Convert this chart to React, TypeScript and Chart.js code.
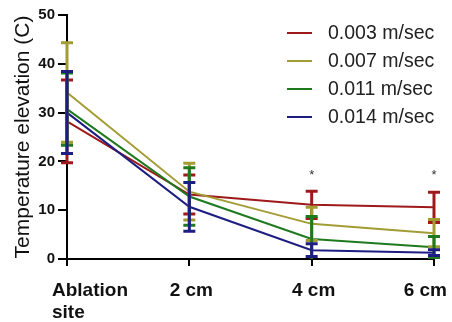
import React, { useEffect, useRef } from "react";
import { Chart, registerables } from "chart.js";

Chart.register(...registerables);

const categories: string[][] = [["Ablation", "site"], ["2 cm"], ["4 cm"], ["6 cm"]];
const seriesLabels = ["0.003 m/sec", "0.007 m/sec", "0.011 m/sec", "0.014 m/sec"];
const seriesColors = ["#9E1A1A", "#A39C35", "#1F7A1F", "#1E1E82"];
const mean003 = [28.2, 13.2, 11.1, 10.6];
const sd003 = [8.5, 4.0, 2.8, 3.1];
const mean007 = [34.1, 13.8, 7.2, 5.3];
const sd007 = [10.2, 5.8, 3.4, 2.8];
const mean011 = [30.7, 12.8, 4.1, 2.4];
const sd011 = [7.4, 5.9, 4.6, 2.2];
const mean014 = [30.0, 10.7, 1.8, 1.3];
const sd014 = [8.4, 5.0, 1.3, 0.6];
const yTicks = [0, 10, 20, 30, 40, 50];
const starCategories = [2, 3];
const starValue = 17.2;

const means = [mean003, mean007, mean011, mean014];
const sds = [sd003, sd007, sd011, sd014];

const FONT = "'Liberation Sans', Arial, sans-serif";

const errorBarPlugin = {
  id: "errorBars",
  afterDatasetsDraw(chart: any) {
    const ctx = chart.ctx;
    const x = chart.scales.x;
    const y = chart.scales.y;
    ctx.save();
    ctx.beginPath();
    ctx.rect(chart.chartArea.left - 10, chart.chartArea.top - 10, chart.chartArea.width + 20, chart.chartArea.height + 10);
    ctx.clip();
    means.forEach((m, si) => {
      ctx.strokeStyle = seriesColors[si];
      ctx.lineWidth = 3;
      m.forEach((v, i) => {
        const px = x.getPixelForValue(i);
        const top = y.getPixelForValue(v + sds[si][i]);
        const bot = y.getPixelForValue(v - sds[si][i]);
        ctx.beginPath();
        ctx.moveTo(px, top);
        ctx.lineTo(px, bot);
        ctx.moveTo(px - 6, top);
        ctx.lineTo(px + 6, top);
        ctx.moveTo(px - 6, bot);
        ctx.lineTo(px + 6, bot);
        ctx.stroke();
      });
    });
    ctx.restore();

    ctx.save();
    ctx.fillStyle = "#333";
    ctx.font = `13px ${FONT}`;
    ctx.textAlign = "center";
    ctx.textBaseline = "middle";
    starCategories.forEach((idx) => {
      ctx.fillText("*", x.getPixelForValue(idx), y.getPixelForValue(starValue));
    });
    ctx.restore();
  },
  afterDraw(chart: any) {
    const ctx = chart.ctx;
    const x = chart.scales.x;
    ctx.save();
    ctx.fillStyle = "#111";
    ctx.font = `bold 19px ${FONT}`;
    ctx.textBaseline = "top";
    const last = categories.length - 1;
    categories.forEach((lines, i) => {
      const px = x.getPixelForValue(i);
      lines.forEach((t, li) => {
        const yy = 281 + li * 22;
        if (i === 0) {
          ctx.textAlign = "left";
          ctx.fillText(t, px - 15, yy);
        } else if (i === last) {
          ctx.textAlign = "right";
          ctx.fillText(t, chart.width - 5, yy);
        } else {
          ctx.textAlign = "center";
          ctx.fillText(t, px + 2, yy);
        }
      });
    });
    ctx.restore();
  },
};

const legendPlugin = {
  id: "customLegend",
  afterDraw(chart: any) {
    const ctx = chart.ctx;
    ctx.save();
    ctx.font = `19.5px ${FONT}`;
    ctx.textBaseline = "middle";
    ctx.textAlign = "left";
    chart.data.datasets.forEach((ds: any, i: number) => {
      const yy = 33 + i * 28;
      ctx.strokeStyle = ds.borderColor;
      ctx.lineWidth = 2;
      ctx.beginPath();
      ctx.moveTo(287, yy);
      ctx.lineTo(312, yy);
      ctx.stroke();
      ctx.fillStyle = "#222";
      ctx.fillText(ds.label, 328, yy + 1);
    });
    ctx.restore();
  },
};

export default function App() {
  const ref = useRef<HTMLCanvasElement>(null);
  useEffect(() => {
    document.body.style.margin = "0";
    const chart = new Chart(ref.current!, {
      type: "line",
      data: {
        labels: categories.map((c) => c.join(" ")),
        datasets: means.map((m, i) => ({
          label: seriesLabels[i],
          data: m,
          borderColor: seriesColors[i],
          backgroundColor: seriesColors[i],
          borderWidth: 2,
          pointRadius: 0,
          tension: 0,
          order: 4 - i,
        })),
      },
      options: {
        animation: false,
        responsive: false,
        layout: { padding: { top: 15, right: 18, left: 0, bottom: 0 } },
        plugins: { legend: { display: false }, tooltip: { enabled: false } },
        scales: {
          x: {
            offset: false,
            grid: { drawOnChartArea: false, drawTicks: true, tickLength: 7, color: "#000", lineWidth: 2 },
            border: { color: "#000", width: 2 },
            ticks: { display: false, autoSkip: false },
            afterFit(scale: any) {
              scale.height = 63;
              scale.paddingLeft = 0;
              scale.paddingRight = 0;
            },
          },
          y: {
            min: 0,
            max: 50,
            afterBuildTicks(scale: any) {
              scale.ticks = yTicks.map((v) => ({ value: v }));
            },
            grid: { drawOnChartArea: false, drawTicks: true, tickLength: 9, color: "#000", lineWidth: 2 },
            border: { color: "#000", width: 2 },
            ticks: {
              color: "#111",
              font: { family: FONT, size: 15, weight: "bold" },
              padding: 3,
            },
            title: {
              display: true,
              text: "Temperature elevation (C)",
              color: "#111",
              font: { family: FONT, size: 21 },
              padding: { top: 11, bottom: 0 },
            },
            afterFit(scale: any) {
              scale.width = 67;
              scale.paddingTop = 0;
              scale.paddingBottom = 0;
            },
          },
        },
      },
      plugins: [errorBarPlugin, legendPlugin],
    });
    return () => chart.destroy();
  }, []);
  return <canvas ref={ref} width={452} height={322} style={{ display: "block" }} />;
}
